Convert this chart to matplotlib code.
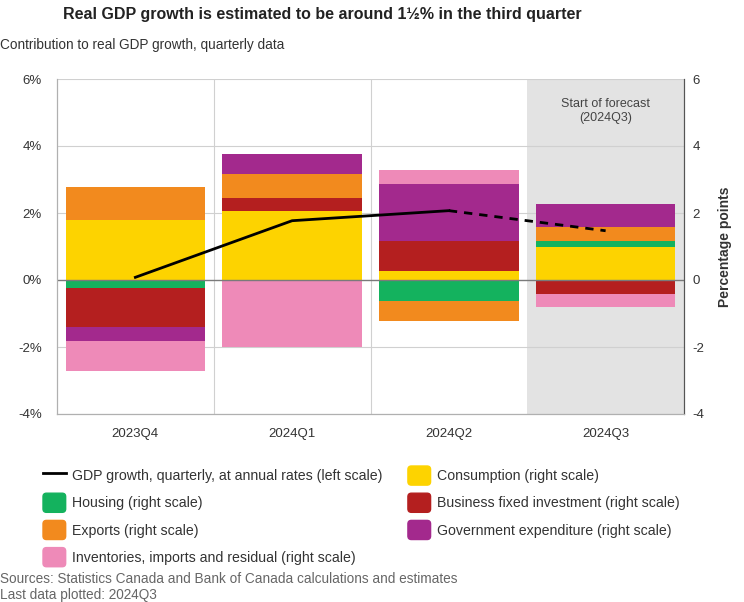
import matplotlib.pyplot as plt
import matplotlib.patches as mpatches
from matplotlib.lines import Line2D
from matplotlib.legend_handler import HandlerPatch
import numpy as np

plt.rcParams["font.family"] = ["Liberation Sans", "DejaVu Sans"]
plt.rcParams["axes.unicode_minus"] = False

quarters = ["2023Q4", "2024Q1", "2024Q2", "2024Q3"]
gdp = [0.08, 1.77, 2.07, 1.47]

consumption = [1.78, 2.07, 0.28, 0.98]
housing = [-0.23, 0.0, -0.62, 0.19]
business = [-1.17, 0.39, 0.89, -0.42]
exports = [1.00, 0.71, -0.59, 0.41]
government = [-0.42, 0.59, 1.71, 0.69]
inventories = [-0.90, -2.01, 0.39, -0.40]

series = [
    ("Consumption (right scale)", consumption, "#FDD300"),
    ("Housing (right scale)", housing, "#14B25E"),
    ("Business fixed investment (right scale)", business, "#B41F1F"),
    ("Exports (right scale)", exports, "#F28A1E"),
    ("Government expenditure (right scale)", government, "#A3298D"),
    ("Inventories, imports and residual (right scale)", inventories, "#EE8AB8"),
]


def rounded_box(legend, orig_handle, xdescent, ydescent, width, height, fontsize):
    return mpatches.FancyBboxPatch((-xdescent, -ydescent), width, height,
                                   boxstyle="round,pad=0,rounding_size=2.5")


fig = plt.figure(figsize=(7.44, 6.02), dpi=100)
ax = fig.add_axes([57 / 744, 1 - 414 / 602, 627 / 744, 335 / 602])
ax2 = ax.twinx()

x = np.arange(len(quarters))

# forecast shading and grid on the bar axis
ax2.axvspan(2.5, 3.5, color="#E3E3E3", zorder=0, lw=0)
for v in [-4, -2, 2, 4, 6]:
    ax2.axhline(v, color="#D0D0D0", lw=0.8, zorder=0.5)
for b in [0.5, 1.5]:
    ax2.axvline(b, color="#D0D0D0", lw=0.8, zorder=0.5)

pos_base = np.zeros(len(quarters))
neg_base = np.zeros(len(quarters))
handles = {}
for name, vals, color in series:
    vals = np.array(vals)
    base = np.where(vals >= 0, pos_base, neg_base)
    ax2.bar(x, vals, bottom=base, width=0.89, color=color, zorder=2, lw=0)
    pos_base += np.where(vals >= 0, vals, 0)
    neg_base += np.where(vals < 0, vals, 0)
    handles[name] = mpatches.Patch(color=color)

ax2.axhline(0, color="#7A7A7A", lw=1, zorder=3)

ax2.text(3, 5.05, "Start of forecast\n(2024Q3)", ha="center", va="center",
         fontsize=9, color="#444444", linespacing=1.2)

# GDP line on the left scale
ax.set_zorder(ax2.get_zorder() + 1)
ax.patch.set_visible(False)
ax.plot(x[:3], gdp[:3], color="black", lw=2, zorder=5)
ax.plot(x[2:], gdp[2:], color="black", lw=2, ls=(0, (3, 2.5)), zorder=5)

for a in (ax, ax2):
    a.set_ylim(-4, 6)
    a.set_xlim(-0.5, 3.5)
    a.set_yticks([-4, -2, 0, 2, 4, 6])
    a.spines["top"].set_visible(False)
    a.spines["left"].set_color("#B0B0B0")
    a.spines["bottom"].set_color("#B0B0B0")
    a.spines["right"].set_color("#555555")
    a.tick_params(length=0, labelsize=9.5, colors="#333333")

ax.set_yticklabels([f"{v}%" for v in [-4, -2, 0, 2, 4, 6]])
ax.tick_params(axis="y", pad=11)
ax2.tick_params(axis="y", pad=6)
ax.set_xticks(x)
ax.set_xticklabels(quarters)
ax.tick_params(axis="x", pad=10)
ax2.set_ylabel("Percentage points", fontsize=10, fontweight="bold", color="#333333", labelpad=10)

fig.text(322 / 744, 1 - 15 / 602, "Real GDP growth is estimated to be around 1\u00bd% in the third quarter",
         ha="center", va="center", fontsize=11.5, fontweight="bold", color="#222222")
fig.text(0, 1 - 45 / 602, "Contribution to real GDP growth, quarterly data",
         ha="left", va="center", fontsize=9.8, color="#333333")

gdp_handle = Line2D([], [], color="black", lw=2)
leg_items = [
    (gdp_handle, "GDP growth, quarterly, at annual rates (left scale)"),
    (handles["Housing (right scale)"], "Housing (right scale)"),
    (handles["Exports (right scale)"], "Exports (right scale)"),
    (handles["Inventories, imports and residual (right scale)"], "Inventories, imports and residual (right scale)"),
    (handles["Consumption (right scale)"], "Consumption (right scale)"),
    (handles["Business fixed investment (right scale)"], "Business fixed investment (right scale)"),
    (handles["Government expenditure (right scale)"], "Government expenditure (right scale)"),
]
fig.legend([h for h, _ in leg_items], [l for _, l in leg_items], ncol=2,
           loc="upper left", bbox_to_anchor=(43 / 744, 1 - 466 / 602), frameon=False,
           fontsize=10.2, handlelength=1.6, handleheight=1.7, handletextpad=0.45,
           labelspacing=0.57, columnspacing=1.8, borderaxespad=0, borderpad=0,
           labelcolor="#333333", handler_map={mpatches.Patch: HandlerPatch(patch_func=rounded_box)})

fig.text(0, 1 - 579 / 602, "Sources: Statistics Canada and Bank of Canada calculations and estimates",
         ha="left", va="center", fontsize=9.8, color="#666666")
fig.text(0, 1 - 595 / 602, "Last data plotted: 2024Q3",
         ha="left", va="center", fontsize=9.8, color="#666666")

fig.savefig("out.png", dpi=100)
